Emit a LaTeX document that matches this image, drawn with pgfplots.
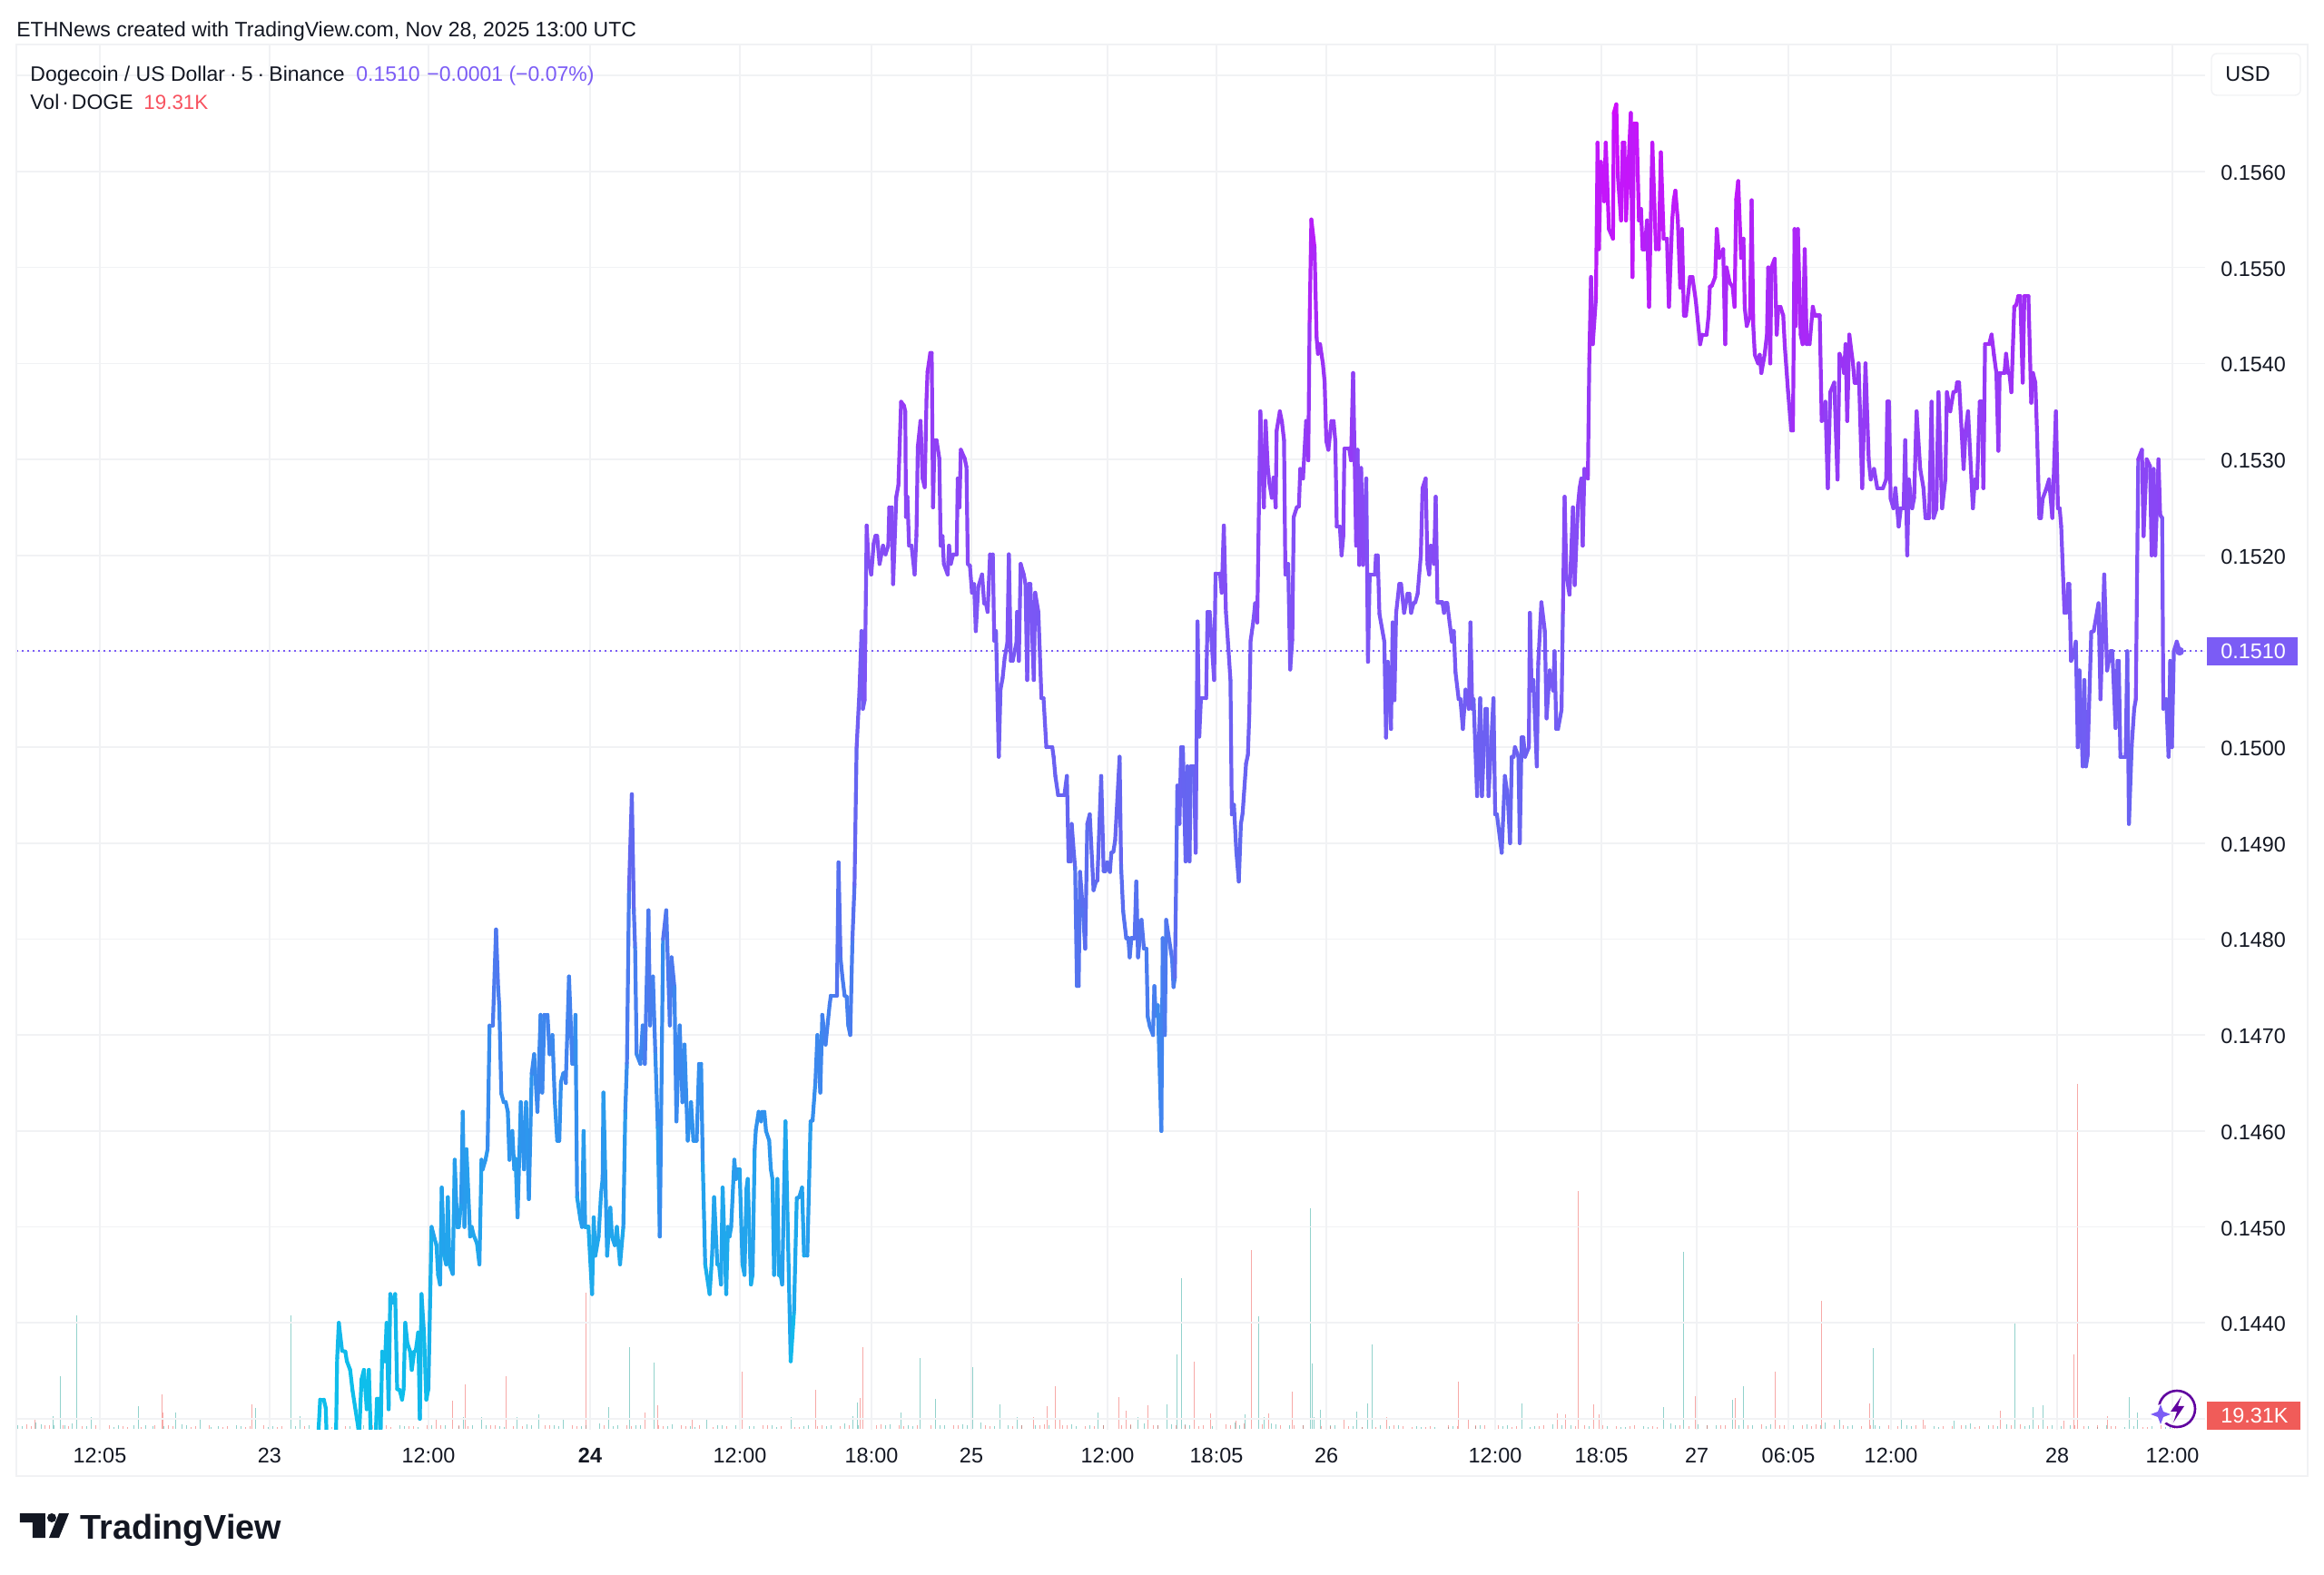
\documentclass[border=0pt]{standalone}
\usepackage{fontspec}
\setmainfont{Liberation Sans}
\usepackage{pgfplots}
\pgfplotsset{compat=1.18}
\definecolor{tvtext}{HTML}{131722}
\definecolor{tvgrid}{HTML}{F1F2F4}
\definecolor{tvviolet}{HTML}{7B5CF5}
\definecolor{tvred}{HTML}{F7525F}
\definecolor{volteal}{HTML}{26A69A}
\definecolor{volred}{HTML}{EF5350}
\newcommand{\tvfont}{\fontsize{11.7pt}{14pt}\selectfont}
\newcommand{\dotsep}{\hspace{0.22em}·\hspace{0.22em}}
\newcommand{\dotsepnarrow}{\hspace{0.13em}·\hspace{0.13em}}
% x is the position along the time scale in pixels of the reference, y the price
\begin{document}
\begin{tikzpicture}
\path[use as bounding box] (-9pt,-80pt) rectangle (1271pt,787.5pt);

% volume, own scale in thousands of DOGE
\begin{axis}[at={(0pt,0.5pt)},anchor=south west,scale only axis,width=1205.5pt,height=762.5pt,
  xmin=18,xmax=2429,ymin=0,ymax=2104.5,axis lines=none,clip=true]
\addplot[ycomb,no markers,draw=volteal,opacity=0.5,line width=0.5pt] coordinates {
(59,19.3)(66.9,80)(84.9,172.5)(100,18)(152,34.5)(193.5,25)(220,16.6)(281.6,31.7)(320,172.5)(330.6,19.3)
(510,18)(530.6,18)(569,18)(593.5,22)(620,13.8)(670,33)(693,124)(720,100.7)(778,13.8)(871,18)(939.6,19.3)
(944.5,40)(992.7,25)(1013.9,107.6)(1030,45.5)(1071,93.8)(1101,37.3)(1120,18)(1209,25)(1253,18)(1285,37.3)
(1296.3,113)(1301.2,229)(1371.4,22)(1386,171)(1392.7,18)(1443.3,335)(1445,99)(1447,18)(1454,29)(1494,26)
(1506,38.6)(1511,128)(1676.7,38.6)(1832,33)(1854.7,269)(1908.6,44)(1920,65)(2026,16.6)(2063,123)(2094.7,16.6)
(2152.7,12.4)(2219.6,160)(2239,33)(2250,36)(2345.3,48)(2354.3,25)
(20,6)(40,9)(60,5)(80,8)(110,4)(130,6)(160,5)(180,4)(200,7)(240,4)(260,5)(300,4)(340,5)(360,3)(400,6)(420,4)
(440,5)(460,3)(490,6)(520,5)(550,4)(580,7)(610,5)(640,4)(660,8)(680,5)(700,6)(740,7)(760,4)(790,6)(810,5)
(830,4)(850,5)(890,6)(910,4)(930,8)(960,11)(980,7)(1000,6)(1040,6)(1060,7)(1080,9)(1110,6)(1140,5)(1180,7)
(1200,5)(1220,6)(1260,8)(1290,7)(1310,6)(1340,5)(1360,9)(1400,8)(1420,6)(1470,5)(1490,4)(1520,6)(1540,5)
(1560,4)(1580,3)(1600,4)(1630,5)(1660,6)(1690,4)(1710,7)(1730,5)(1770,4)(1790,3)(1810,4)(1840,8)(1870,7)
(1890,6)(1930,5)(1950,7)(1970,6)(1990,7)(2010,9)(2040,5)(2070,4)(2100,5)(2130,4)(2170,8)(2190,5)(2210,7)
(2230,4)(2260,6)(2280,5)(2300,4)(2320,5)(2340,3)(2370,4)(2390,3)
(25,4)(46,7)(72,5)(95,4)(125,3)(147,5)(168,4)(205,5)(232,3)(265,4)(295,3)(325,4)(352,3)(385,4)(415,5)(445,4)
(475,5)(505,4)(535,6)(555,3)(585,5)(615,4)(645,6)(675,4)(705,5)(735,4)(765,3)(795,5)(825,4)(855,3)(885,4)
(915,5)(945,6)(975,5)(1005,4)(1035,6)(1065,5)(1095,4)(1125,5)(1155,6)(1185,4)(1215,5)(1245,6)(1275,5)(1305,7)
(1335,4)(1365,6)(1405,7)(1435,5)(1465,6)(1500,3)(1530,4)(1565,3)(1595,3)(1625,4)(1655,4)(1685,3)(1720,5)
(1750,4)(1785,3)(1815,3)(1845,6)(1880,5)(1915,6)(1945,4)(1975,5)(2005,6)(2035,4)(2065,5)(2105,4)(2135,3)
(2165,6)(2200,4)(2235,5)(2270,4)(2310,3)(2350,4)(2385,3)
};
\addplot[ycomb,no markers,draw=volred,opacity=0.5,line width=0.5pt] coordinates {
(39,15)(178,52)(179.6,25)(277.6,37)(480,15)(498,43)(512,68)(557.6,80)(645,207)(710.2,25)(724,36)(762.4,15)
(817,87)(898,59)(947.8,47)(950,124)(1138.8,18)(1153.5,34.5)(1162.4,65)(1167,16.6)(1232.7,48)(1240,27.6)
(1264.5,36)(1315,102)(1333,23.5)(1361.6,12.4)(1378,272)(1397.6,23.5)(1423,56.6)(1461,109)(1480,13.8)
(1527.3,18)(1606.5,72)(1617,16.6)(1646.5,252.5)(1715,23.5)(1724,22)(1738.8,361.6)(1755,37)(1761.6,22)
(1867.8,50)(1911,47)(1955,87)(2006.5,194.6)(2059.6,38.6)(2118,13.8)(2203.3,27.6)(2273.5,12.4)(2284,113)
(2288,524)(2321,19.3)
(30,7)(50,5)(70,6)(90,4)(120,5)(140,3)(170,6)(190,4)(210,3)(230,5)(250,4)(270,3)(290,5)(310,4)(350,3)(380,4)
(410,5)(430,3)(450,4)(470,5)(505,6)(540,5)(565,4)(600,6)(630,5)(650,4)(690,5)(730,4)(750,6)(770,5)(800,4)
(840,5)(860,4)(880,3)(905,5)(925,4)(970,7)(990,5)(1010,6)(1050,5)(1090,4)(1125,5)(1150,7)(1175,6)(1195,4)
(1215,5)(1245,7)(1275,6)(1305,5)(1325,6)(1350,7)(1370,8)(1410,6)(1435,5)(1465,4)(1500,3)(1535,5)(1555,3)
(1575,4)(1595,5)(1625,6)(1650,5)(1670,4)(1700,6)(1745,5)(1780,4)(1800,5)(1820,4)(1850,5)(1880,6)(1900,5)
(1940,7)(1965,6)(1985,5)(2000,7)(2020,6)(2050,4)(2080,5)(2110,6)(2140,4)(2160,5)(2180,4)(2195,6)(2225,7)
(2245,5)(2265,6)(2295,4)(2310,5)(2330,4)(2360,3)(2380,5)
(35,4)(55,6)(76,4)(105,5)(135,4)(155,3)(185,5)(215,4)(245,3)(275,4)(305,3)(335,4)(365,3)(395,4)(425,5)(455,4)
(485,5)(515,4)(545,5)(575,4)(605,5)(635,4)(665,5)(695,4)(725,5)(755,4)(785,3)(815,4)(845,5)(875,3)(900,4)
(935,5)(965,6)(995,4)(1025,5)(1055,6)(1085,5)(1115,4)(1145,6)(1170,5)(1205,4)(1235,5)(1270,6)(1295,5)(1320,4)
(1355,5)(1390,7)(1425,5)(1455,4)(1485,4)(1515,3)(1545,4)(1570,3)(1605,4)(1635,5)(1665,3)(1695,4)(1735,4)
(1765,5)(1795,4)(1825,3)(1860,4)(1895,5)(1925,6)(1960,5)(1995,4)(2030,5)(2060,6)(2090,4)(2120,5)(2150,4)
(2175,3)(2215,5)(2255,4)(2285,6)(2325,4)(2365,3)(2395,4)
};
\end{axis}

% price pane
\begin{axis}[at={(0pt,0pt)},anchor=south west,scale only axis,width=1205.5pt,height=763pt,
  xmin=18,xmax=2429,ymin=0.142886,ymax=0.157324,
  axis line style={draw=none},major tick length=0pt,
  grid=major,grid style={draw=tvgrid,line width=0.8pt},
  xtick={110,297,472,650,815,960,1070,1220,1340,1461,1647,1764,1869,1970,2083,2266,2393},
  xticklabels={12:05,23,12:00,\textbf{24},12:00,18:00,25,12:00,18:05,26,12:00,18:05,27,06:05,12:00,28,12:00},
  ytick={0.143,0.144,0.145,0.146,0.147,0.148,0.149,0.15,0.151,0.152,0.153,0.154,0.155,0.156,0.157},
  yticklabels={,0.1440,0.1450,0.1460,0.1470,0.1480,0.1490,0.1500,,0.1520,0.1530,0.1540,0.1550,0.1560,},
  yticklabel pos=right,scaled y ticks=false,
  x tick label style={font=\tvfont,text=tvtext,anchor=base,inner sep=0pt,yshift=-18pt},
  y tick label style={font=\tvfont,text=tvtext,anchor=west,inner sep=0pt,xshift=8.5pt,yshift=-0.7pt},
  colormap={tvgrad}{rgb255=(14,190,235) rgb255=(50,145,238) rgb255=(95,105,240) rgb255=(125,85,245) rgb255=(155,50,245) rgb255=(212,10,252)},
  point meta min=0.1435,point meta max=0.1567]

\addplot[draw=tvviolet,line width=1pt,dash pattern=on 1.1pt off 1.9pt,forget plot] coordinates {(18,0.151)(2429,0.151)};

\addplot[mesh,point meta=y,no markers,line width=2.1pt,line join=round,line cap=round] coordinates {
(350.4,0.14280)(352.7,0.14320)(356.7,0.14320)(358.9,0.14311)(359.8,0.14280)(370.1,0.14280)(371.4,0.14363)(373.2,0.14400)
(376.8,0.14371)(380.4,0.14370)(382.1,0.14360)(385.7,0.14351)(388.4,0.14329)(394.6,0.14291)(395.5,0.14280)(398.2,0.14341)
(400.9,0.14351)(404.0,0.14310)(406.3,0.14351)(408.5,0.14280)(413.8,0.14280)(415.2,0.14321)(417.4,0.14321)(419.2,0.14280)
(421.0,0.14370)(424.1,0.14360)(425.9,0.14400)(428.1,0.14310)(429.9,0.14430)(432.6,0.14421)(435.3,0.14430)(437.5,0.14331)
(440.2,0.14330)(442.9,0.14320)(444.6,0.14331)(446.4,0.14400)(448.7,0.14379)(451.8,0.14370)(453.6,0.14351)(456.3,0.14370)
(458.0,0.14371)(460.7,0.14390)(462.5,0.14300)(464.3,0.14430)(467.0,0.14390)(469.6,0.14320)(471.9,0.14331)(475.4,0.14500)
(478.6,0.14488)(480.8,0.14481)(482.6,0.14450)(484.8,0.14440)(486.6,0.14541)(489.3,0.14470)(491.5,0.14461)(493.3,0.14531)
(495.1,0.14461)(498.7,0.14451)(500.9,0.14570)(503.6,0.14500)(505.4,0.14500)(508.0,0.14526)(509.8,0.14620)(511.6,0.14500)
(513.8,0.14581)(517.9,0.14490)(519.6,0.14500)(521.9,0.14491)(525.4,0.14483)(528.1,0.14461)(530.4,0.14570)(531.7,0.14560)
(534.8,0.14570)(537.1,0.14581)(539.3,0.14710)(542.9,0.14710)(546.4,0.14810)(548.7,0.14750)(550.0,0.14730)(552.2,0.14639)
(554.9,0.14630)(557.1,0.14630)(559.4,0.14620)(561.2,0.14570)(564.3,0.14600)(566.5,0.14560)(567.9,0.14571)(570.1,0.14510)
(573.7,0.14630)(577.2,0.14560)(579.5,0.14630)(582.6,0.14529)(585.7,0.14660)(588.4,0.14680)(592.0,0.14620)(595.5,0.14721)
(597.3,0.14640)(599.6,0.14721)(603.1,0.14721)(605.4,0.14680)(608.5,0.14700)(611.2,0.14630)(613.8,0.14590)(616.1,0.14590)
(617.9,0.14651)(620.5,0.14660)(622.3,0.14661)(623.2,0.14650)(626.8,0.14761)(630.4,0.14670)(632.6,0.14670)(633.9,0.14721)
(635.7,0.14531)(639.3,0.14508)(641.1,0.14500)(642.9,0.14600)(644.6,0.14500)(648.2,0.14500)(652.2,0.14430)(654.0,0.14510)
(655.8,0.14470)(659.4,0.14490)(662.1,0.14535)(663.8,0.14550)(664.7,0.14640)(668.8,0.14470)(672.3,0.14520)(674.1,0.14490)
(677.2,0.14481)(679.5,0.14500)(683.0,0.14461)(686.6,0.14500)(688.8,0.14621)(690.6,0.14671)(692.9,0.14852)(696.0,0.14951)
(698.2,0.14830)(699.6,0.14791)(701.3,0.14680)(705.4,0.14670)(708.0,0.14710)(710.3,0.14670)(714.3,0.14830)(716.1,0.14710)
(719.2,0.14761)(721.9,0.14680)(724.6,0.14603)(726.8,0.14490)(730.4,0.14800)(733.9,0.14830)(737.9,0.14710)(739.7,0.14781)
(742.9,0.14750)(745.1,0.14610)(748.7,0.14710)(751.8,0.14630)(754.0,0.14690)(757.6,0.14590)(761.2,0.14630)(763.8,0.14590)
(767.4,0.14590)(770.1,0.14670)(772.3,0.14670)(774.1,0.14567)(776.8,0.14461)(781.7,0.14430)(784.4,0.14470)(786.6,0.14531)
(790.2,0.14461)(792.0,0.14461)(794.2,0.14440)(796.0,0.14541)(800.0,0.14430)(801.8,0.14500)(803.6,0.14490)(805.4,0.14500)
(808.9,0.14570)(810.7,0.14550)(812.5,0.14560)(814.7,0.14560)(817.9,0.14461)(820.1,0.14450)(822.3,0.14540)(823.7,0.14550)
(827.2,0.14440)(829.0,0.14450)(831.3,0.14581)(832.6,0.14601)(835.7,0.14620)(838.4,0.14610)(839.7,0.14620)(842.0,0.14620)
(843.8,0.14600)(847.3,0.14590)(849.1,0.14560)(850.9,0.14550)(852.7,0.14450)(856.3,0.14550)(858.0,0.14450)(859.8,0.14450)
(861.6,0.14440)(865.2,0.14610)(871.0,0.14360)(874.6,0.14411)(877.7,0.14530)(880.4,0.14531)(883.5,0.14541)(885.7,0.14470)
(889.3,0.14470)(892.9,0.14610)(895.1,0.14611)(898.2,0.14651)(900.4,0.14700)(903.6,0.14640)(905.8,0.14721)(909.4,0.14690)
(913.8,0.14731)(915.2,0.14741)(921.9,0.14741)(923.7,0.14880)(925.9,0.14780)(928.1,0.14759)(930.4,0.14741)(932.6,0.14740)
(934.4,0.14710)(936.6,0.14700)(939.0,0.14800)(941.3,0.14857)(943.6,0.15000)(946.7,0.15058)(949.0,0.15121)(950.5,0.15040)
(952.4,0.15049)(954.7,0.15231)(956.6,0.15195)(959.7,0.15180)(962.4,0.15212)(964.3,0.15220)(966.2,0.15220)(968.9,0.15191)
(972.7,0.15210)(975.4,0.15201)(978.5,0.15210)(979.6,0.15250)(982.3,0.15250)(983.8,0.15170)(987.3,0.15261)(989.6,0.15273)
(992.6,0.15360)(995.7,0.15356)(997.2,0.15350)(998.0,0.15240)(999.5,0.15261)(1001.4,0.15210)(1004.1,0.15210)(1007.5,0.15180)
(1009.5,0.15221)(1011.0,0.15313)(1014.0,0.15340)(1016.3,0.15280)(1018.6,0.15271)(1020.6,0.15363)(1021.7,0.15391)(1024.8,0.15411)
(1026.3,0.15411)(1027.8,0.15250)(1029.4,0.15320)(1031.6,0.15320)(1034.7,0.15301)(1036.2,0.15210)(1038.2,0.15220)(1039.7,0.15191)
(1043.9,0.15180)(1045.4,0.15210)(1047.3,0.15191)(1050.0,0.15201)(1053.8,0.15201)(1055.0,0.15280)(1056.9,0.15250)(1058.4,0.15310)
(1062.6,0.15301)(1064.6,0.15292)(1066.1,0.15191)(1068.4,0.15189)(1070.7,0.15161)(1073.0,0.15170)(1074.9,0.15121)(1077.6,0.15167)
(1081.8,0.15180)(1084.1,0.15150)(1086.0,0.15150)(1087.9,0.15141)(1090.6,0.15201)(1093.6,0.15201)(1095.2,0.15111)(1097.1,0.15121)
(1100.2,0.14990)(1102.1,0.15060)(1104.4,0.15072)(1106.7,0.15093)(1109.7,0.15109)(1111.3,0.15201)(1113.5,0.15090)(1115.5,0.15090)
(1119.7,0.15109)(1120.4,0.15141)(1122.3,0.15090)(1124.3,0.15191)(1127.7,0.15180)(1129.6,0.15170)(1131.5,0.15070)(1133.4,0.15170)
(1135.0,0.15170)(1138.8,0.15070)(1140.3,0.15161)(1143.8,0.15141)(1147.2,0.15051)(1149.5,0.15051)(1152.6,0.15000)(1159.1,0.15000)
(1160.6,0.14990)(1162.5,0.14970)(1165.6,0.14950)(1172.5,0.14950)(1175.2,0.14970)(1177.1,0.14881)(1179.4,0.14881)(1180.5,0.14920)
(1182.8,0.14891)(1184.3,0.14874)(1186.3,0.14751)(1188.2,0.14751)(1189.7,0.14870)(1192.8,0.14831)(1195.4,0.14790)(1197.7,0.14920)
(1200.4,0.14930)(1204.6,0.14851)(1207.3,0.14860)(1208.8,0.14861)(1213.0,0.14970)(1215.7,0.14871)(1217.6,0.14871)(1219.6,0.14880)
(1222.6,0.14870)(1224.2,0.14890)(1226.4,0.14891)(1228.4,0.14903)(1233.3,0.14990)(1234.9,0.14877)(1237.2,0.14829)(1240.6,0.14801)
(1242.9,0.14801)(1244.4,0.14781)(1246.3,0.14801)(1249.8,0.14801)(1251.7,0.14860)(1253.6,0.14781)(1257.4,0.14820)(1260.1,0.14790)
(1262.8,0.14790)(1264.3,0.14719)(1266.6,0.14709)(1270.1,0.14700)(1271.6,0.14751)(1273.1,0.14720)(1275.4,0.14731)(1279.3,0.14600)
(1280.8,0.14801)(1283.1,0.14700)(1284.6,0.14820)(1291.1,0.14779)(1292.7,0.14750)(1294.2,0.14760)(1296.9,0.14960)(1299.2,0.14920)
(1301.1,0.15000)(1303.0,0.15000)(1306.0,0.14881)(1308.0,0.14980)(1310.3,0.14881)(1311.8,0.14980)(1315.2,0.14980)(1317.1,0.14890)
(1319.1,0.15131)(1321.0,0.15011)(1322.9,0.15051)(1328.6,0.15051)(1330.2,0.15141)(1332.5,0.15141)(1337.4,0.15070)(1339.0,0.15181)
(1343.9,0.15181)(1345.8,0.15161)(1348.1,0.15231)(1350.4,0.15141)(1352.7,0.15109)(1355.4,0.15070)(1356.9,0.14930)(1359.2,0.14940)
(1361.9,0.14891)(1364.6,0.14860)(1366.9,0.14920)(1368.8,0.14931)(1372.6,0.14983)(1374.6,0.14992)(1376.1,0.15032)(1377.6,0.15111)
(1380.7,0.15132)(1382.6,0.15150)(1384.9,0.15130)(1388.3,0.15350)(1392.2,0.15250)(1394.1,0.15340)(1396.4,0.15293)(1398.3,0.15275)
(1401.0,0.15260)(1402.9,0.15281)(1405.2,0.15250)(1406.3,0.15330)(1409.8,0.15350)(1412.1,0.15339)(1414.4,0.15320)(1415.9,0.15180)
(1417.4,0.15180)(1419.0,0.15191)(1421.2,0.15081)(1423.5,0.15112)(1425.1,0.15240)(1428.5,0.15250)(1430.8,0.15251)(1432.3,0.15290)
(1435.3,0.15280)(1438.8,0.15340)(1441.1,0.15299)(1442.6,0.15444)(1444.5,0.15550)(1448.0,0.15521)(1450.3,0.15427)(1451.8,0.15410)
(1454.1,0.15420)(1457.2,0.15400)(1459.1,0.15381)(1461.0,0.15319)(1463.3,0.15310)(1466.7,0.15340)(1469.0,0.15340)(1470.9,0.15319)
(1472.5,0.15230)(1475.9,0.15230)(1477.8,0.15200)(1479.7,0.15220)(1480.9,0.15311)(1486.2,0.15311)(1488.2,0.15299)(1490.5,0.15390)
(1493.9,0.15210)(1495.4,0.15310)(1497.3,0.15190)(1499.3,0.15291)(1501.5,0.15190)(1505.0,0.15280)(1506.9,0.15089)(1508.8,0.15180)
(1514.6,0.15180)(1515.7,0.15200)(1517.6,0.15200)(1519.5,0.15139)(1524.9,0.15110)(1526.8,0.15010)(1528.7,0.15089)(1532.2,0.15019)
(1534.1,0.15130)(1536.0,0.15049)(1537.9,0.15140)(1541.4,0.15170)(1543.3,0.15170)(1546.7,0.15140)(1550.5,0.15160)(1552.4,0.15160)
(1554.4,0.15140)(1557.0,0.15150)(1559.0,0.15151)(1561.6,0.15160)(1565.1,0.15200)(1567.0,0.15270)(1570.4,0.15280)(1572.4,0.15191)
(1574.3,0.15180)(1576.2,0.15210)(1579.6,0.15191)(1581.5,0.15261)(1583.4,0.15151)(1588.8,0.15151)(1590.7,0.15140)(1592.2,0.15150)
(1594.2,0.15150)(1596.8,0.15130)(1599.5,0.15110)(1601.4,0.15121)(1603.3,0.15078)(1606.8,0.15050)(1608.7,0.15050)(1611.4,0.15019)
(1614.4,0.15060)(1617.9,0.15040)(1619.8,0.15130)(1621.7,0.15040)(1623.2,0.15050)(1627.1,0.14949)(1630.5,0.15051)(1632.4,0.14949)
(1636.3,0.15040)(1637.8,0.15040)(1639.7,0.14949)(1645.1,0.15051)(1647.0,0.14930)(1648.9,0.14930)(1654.2,0.14890)(1657.7,0.14970)
(1660.8,0.14949)(1663.4,0.14900)(1665.3,0.14990)(1667.3,0.14990)(1668.8,0.15000)(1672.6,0.14990)(1674.1,0.14900)(1676.1,0.15010)
(1678.0,0.15010)(1679.9,0.14990)(1684.1,0.15000)(1685.2,0.15140)(1687.2,0.15059)(1689.1,0.15070)(1692.9,0.14980)(1694.4,0.15087)
(1697.9,0.15151)(1701.7,0.15121)(1703.6,0.15030)(1707.1,0.15080)(1710.9,0.15059)(1712.4,0.15100)(1714.3,0.15019)(1716.2,0.15019)
(1720.1,0.15039)(1721.6,0.15140)(1723.5,0.15261)(1725.4,0.15179)(1728.9,0.15159)(1732.7,0.15250)(1734.6,0.15169)(1738.1,0.15251)
(1740.0,0.15270)(1741.9,0.15280)(1743.4,0.15210)(1745.3,0.15290)(1749.1,0.15280)(1750.7,0.15405)(1752.6,0.15490)(1754.5,0.15420)
(1758.0,0.15468)(1759.8,0.15630)(1761.2,0.15519)(1763.4,0.15610)(1767.0,0.15569)(1768.8,0.15630)(1772.3,0.15540)(1776.8,0.15530)
(1777.7,0.15661)(1780.4,0.15670)(1782.1,0.15596)(1785.7,0.15549)(1787.5,0.15630)(1789.3,0.15630)(1791.1,0.15549)(1796.4,0.15661)
(1798.2,0.15490)(1800.0,0.15650)(1802.7,0.15650)(1805.4,0.15549)(1807.6,0.15561)(1809.4,0.15519)(1811.6,0.15519)(1814.3,0.15549)
(1816.5,0.15459)(1820.1,0.15630)(1824.1,0.15519)(1825.9,0.15530)(1827.2,0.15519)(1829.5,0.15620)(1832.6,0.15530)(1836.2,0.15530)
(1838.4,0.15459)(1842.0,0.15549)(1843.8,0.15571)(1845.5,0.15580)(1848.2,0.15549)(1850.9,0.15479)(1852.7,0.15540)(1854.9,0.15450)
(1857.1,0.15450)(1861.6,0.15490)(1864.3,0.15490)(1867.9,0.15466)(1872.8,0.15420)(1875.0,0.15430)(1879.9,0.15430)(1882.1,0.15450)
(1883.5,0.15480)(1885.7,0.15481)(1889.3,0.15490)(1891.1,0.15540)(1893.8,0.15510)(1898.2,0.15519)(1900.4,0.15420)(1901.8,0.15500)
(1905.4,0.15484)(1908.5,0.15480)(1910.7,0.15459)(1912.5,0.15571)(1914.7,0.15590)(1917.9,0.15510)(1920.5,0.15530)(1921.9,0.15458)
(1924.1,0.15439)(1927.7,0.15449)(1929.5,0.15570)(1931.3,0.15439)(1933.0,0.15409)(1936.6,0.15400)(1938.4,0.15409)(1940.2,0.15390)
(1943.8,0.15409)(1946.4,0.15430)(1947.8,0.15500)(1950.0,0.15400)(1951.3,0.15500)(1954.9,0.15509)(1957.1,0.15430)(1958.9,0.15459)
(1961.2,0.15459)(1964.3,0.15450)(1966.1,0.15417)(1969.6,0.15371)(1973.2,0.15330)(1975.0,0.15330)(1976.8,0.15540)(1978.1,0.15439)
(1980.4,0.15540)(1983.5,0.15430)(1985.7,0.15420)(1988.0,0.15519)(1990.2,0.15420)(1993.3,0.15420)(1996.9,0.15459)(1999.1,0.15450)
(2004.5,0.15450)(2006.7,0.15340)(2010.7,0.15360)(2013.4,0.15270)(2016.1,0.15370)(2020.5,0.15380)(2024.1,0.15279)(2026.3,0.15410)
(2029.5,0.15401)(2031.3,0.15390)(2033.0,0.15420)(2034.8,0.15340)(2037.1,0.15430)(2041.1,0.15400)(2042.9,0.15380)(2046.0,0.15380)
(2047.3,0.15400)(2051.3,0.15270)(2054.9,0.15400)(2058.5,0.15299)(2060.7,0.15279)(2064.3,0.15290)(2067.9,0.15270)(2074.1,0.15270)
(2077.7,0.15279)(2079.0,0.15360)(2080.8,0.15360)(2082.6,0.15259)(2085.7,0.15249)(2087.9,0.15270)(2091.5,0.15230)(2093.8,0.15249)
(2096.9,0.15249)(2098.7,0.15320)(2100.9,0.15200)(2102.7,0.15279)(2106.3,0.15249)(2108.5,0.15260)(2111.2,0.15350)(2115.2,0.15290)
(2118.8,0.15270)(2121.0,0.15239)(2125.0,0.15239)(2127.7,0.15360)(2129.9,0.15239)(2133.0,0.15248)(2135.3,0.15370)(2139.3,0.15249)
(2142.9,0.15279)(2144.6,0.15370)(2148.2,0.15350)(2151.8,0.15370)(2154.5,0.15371)(2155.8,0.15380)(2158.0,0.15380)(2163.0,0.15290)
(2165.2,0.15330)(2167.9,0.15350)(2173.2,0.15249)(2175.4,0.15279)(2177.7,0.15270)(2180.8,0.15360)(2183.0,0.15360)(2184.8,0.15270)
(2186.6,0.15420)(2191.1,0.15420)(2193.8,0.15430)(2196.4,0.15409)(2199.1,0.15390)(2201.3,0.15309)(2202.7,0.15390)(2208.0,0.15390)
(2209.8,0.15410)(2212.1,0.15390)(2213.4,0.15390)(2215.6,0.15370)(2218.8,0.15459)(2221.0,0.15461)(2223.2,0.15470)(2225.4,0.15470)
(2228.1,0.15380)(2229.9,0.15470)(2234.4,0.15470)(2237.5,0.15359)(2239.3,0.15390)(2242.0,0.15380)(2243.8,0.15330)(2246.4,0.15239)
(2248.2,0.15239)(2250.0,0.15259)(2253.6,0.15268)(2257.1,0.15279)(2260.7,0.15239)(2264.7,0.15350)(2266.9,0.15249)(2268.8,0.15249)
(2270.5,0.15230)(2274.1,0.15140)(2275.9,0.15140)(2278.1,0.15170)(2279.5,0.15170)(2281.3,0.15090)(2283.9,0.15095)(2286.6,0.15110)
(2288.8,0.15000)(2290.6,0.15080)(2294.2,0.14980)(2296.0,0.15070)(2297.8,0.14980)(2299.6,0.14991)(2303.6,0.15120)(2306.3,0.15121)
(2311.6,0.15150)(2313.8,0.15050)(2317.9,0.15180)(2321.0,0.15080)(2325.0,0.15100)(2326.8,0.15100)(2330.4,0.15020)(2332.6,0.15090)
(2333.9,0.15090)(2335.7,0.14990)(2341.5,0.14990)(2343.3,0.15100)(2345.1,0.14920)(2348.2,0.15002)(2350.9,0.15040)(2352.7,0.15050)
(2355.4,0.15300)(2359.4,0.15310)(2361.2,0.15220)(2364.7,0.15300)(2368.3,0.15293)(2370.1,0.15200)(2372.3,0.15290)(2374.1,0.15200)
(2377.7,0.15300)(2379.5,0.15242)(2381.7,0.15239)(2383.0,0.15040)(2386.2,0.15050)(2388.8,0.14990)(2390.6,0.15090)(2392.4,0.15000)
(2394.6,0.15100)(2397.8,0.15110)(2401.0,0.15100)
};
\addplot[only marks,mark=*,mark size=2.2pt,mark options={fill=tvviolet,draw=tvviolet},forget plot] coordinates {(2401,0.151)};
\end{axis}

% reference pixel coordinates from here on
\begin{scope}[x=0.5pt,y=-0.5pt,shift={(-18,-1575)}]
\draw[tvgrid,line width=0.9pt] (18,49) -- (2542,49) -- (2542,1626) -- (18,1626) -- cycle;
\fill[tvviolet] (2431,702) rectangle (2531,733);
\node[anchor=base west,inner sep=0pt,text=white,font=\tvfont] at (2446,726) {0.1510};
\fill[volred!95!white] (2431,1544) rectangle (2534,1575);
\node[anchor=base west,inner sep=0pt,text=white,font=\tvfont] at (2446,1568) {19.31K};
\draw[tvgrid,fill=white,rounded corners=3pt,line width=0.7pt] (2436,59) rectangle (2534,105);
\node[anchor=center,inner sep=0pt,text=tvtext,font=\tvfont] at (2476,81) {USD};
\node[anchor=base west,inner sep=0pt,text=tvtext,font=\fontsize{11.5pt}{14pt}\selectfont] at (18,41) {ETHNews created with TradingView.com, Nov 28, 2025 13:00 UTC};
\node[anchor=base west,inner sep=0pt,text=tvtext,font=\fontsize{11.5pt}{14pt}\selectfont] at (33,90) {Dogecoin / US Dollar\dotsep 5\dotsep Binance};
\node[anchor=base west,inner sep=0pt,text=tvviolet,font=\fontsize{11.5pt}{14pt}\selectfont] at (392,90) {0.1510};
\node[anchor=base west,inner sep=0pt,text=tvviolet,font=\fontsize{11.5pt}{14pt}\selectfont] at (470,90) {−0.0001 (−0.07\%)};
\node[anchor=base west,inner sep=0pt,text=tvtext,font=\fontsize{11.5pt}{14pt}\selectfont] at (33,121) {Vol\dotsepnarrow DOGE};
\node[anchor=base west,inner sep=0pt,text=tvred,font=\fontsize{11.2pt}{14pt}\selectfont] at (158,121) {19.31K};
% logo
\fill[tvtext] (22,1667) -- (50,1667) -- (50,1694) -- (36,1694) -- (36,1677) -- (22,1677) -- cycle;
\fill[tvtext] (57,1672) circle[radius=5];
\fill[tvtext] (65,1667) -- (76,1667) -- (65,1694) -- (54,1694) -- cycle;
\node[anchor=base west,inner sep=0pt,text=tvtext,font=\fontsize{18.9pt}{22pt}\selectfont\bfseries] at (88,1695) {TradingView};
% assistant icon
\draw[violet!75!blue,line width=1.3pt] (2398,1552) circle[radius=20];
\fill[white] (2380,1558) circle[radius=11];
\fill[violet!75!blue] (2403,1538) -- (2391,1555) -- (2398,1555) -- (2394,1567) -- (2406,1549) -- (2399,1549) -- cycle;
\fill[tvviolet] (2380,1547) -- (2383,1555) -- (2391,1558) -- (2383,1561) -- (2380,1569) -- (2377,1561) -- (2369,1558) -- (2377,1555) -- cycle;
\end{scope}
\end{tikzpicture}
\end{document}
